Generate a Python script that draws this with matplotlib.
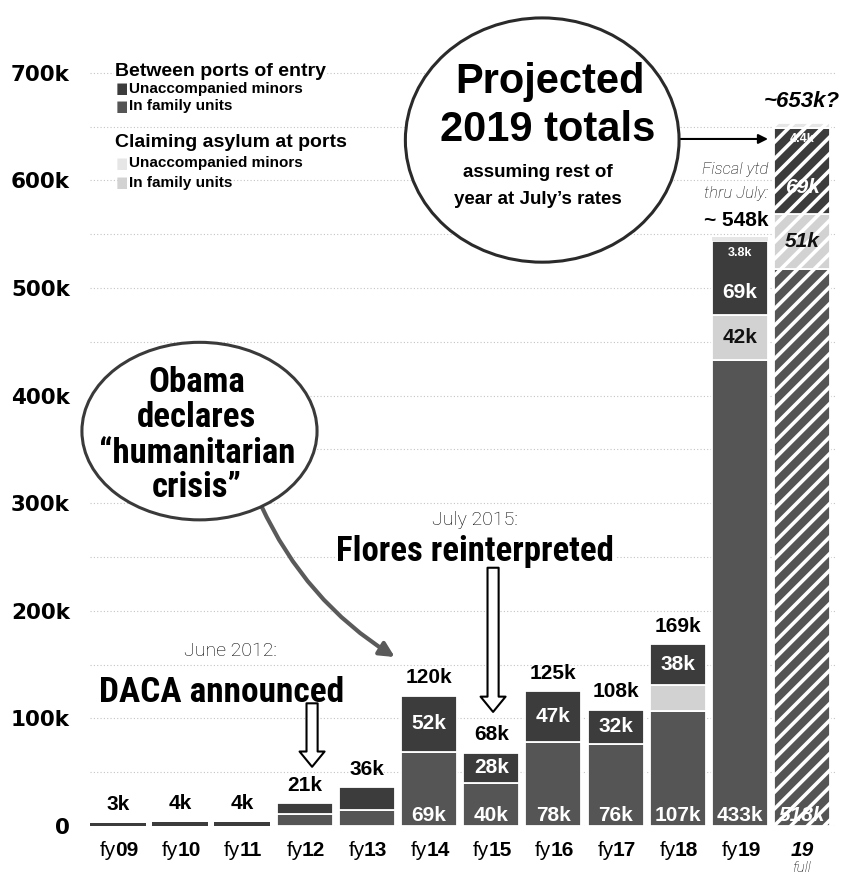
import numpy as np
import matplotlib
matplotlib.use("Agg")
import matplotlib.pyplot as plt
from matplotlib import font_manager
from matplotlib.patches import Ellipse, FancyArrowPatch

#
# Data (thousands of apprehensions / arrivals)
#
years        = ['09', '10', '11', '12', '13', '14', '15', '16', '17', '18', '19', '19']
bp_family    = np.array([0, 0, 0, 11, 15, 69, 40, 78, 76, 107, 433, 518])
poe_family   = np.array([0, 0, 0, 0, 0, 0, 0, 0, 0, 24, 42, 51])
bp_uac       = np.array([3, 4, 4, 10, 21, 52, 28, 47, 32, 38, 69, 80])
poe_uac      = np.array([0, 0, 0, 0, 0, 0, 0, 0, 0, 0, 3.8, 4.4])

total_labels      = ['3k', '4k', '4k', '21k', '36k', '120k', '68k', '125k', '108k', '169k', '', '']
family_labels     = ['', '', '', '', '', '69k', '40k', '78k', '76k', '107k', '433k', '518k']
uac_labels        = ['', '', '', '', '', '52k', '28k', '47k', '32k', '38k', '69k', '69k']
poe_family_labels = ['', '', '', '', '', '', '', '', '', '', '42k', '51k']
poe_uac_labels    = ['', '', '', '', '', '', '', '', '', '', '3.8k', '4.4k']

ytick_vals   = [0, 100, 200, 300, 400, 500, 600, 700]
ytick_labels = ['0', '100k', '200k', '300k', '400k', '500k', '600k', '700k']

#
# Fonts
#
names = {f.name for f in font_manager.fontManager.ttflist}
SANS = 'Liberation Sans' if 'Liberation Sans' in names else 'DejaVu Sans'
NARROW, NSTRETCH = 'DejaVu Sans', 'condensed'
for cand in ['Liberation Sans Narrow', 'Roboto Condensed', 'Open Sans Condensed']:
    if cand in names:
        NARROW, NSTRETCH = cand, 'normal'
        break
HEAD = 20.5 if NARROW == 'DejaVu Sans' else 25
LIGHT = 'Roboto' if 'Roboto' in names else SANS

C_FAM, C_UAC = '#555555', '#3c3c3c'
C_PFAM, C_PUAC = '#d2d2d2', '#e6e6e6'

plt.rcParams['hatch.linewidth'] = 2.6
plt.rcParams['hatch.color'] = 'white'

fig = plt.figure(figsize=(8.43, 8.76), dpi=100)
ax = fig.add_axes([0.0994, 0.0571, 0.8928, 0.9335])
ax.set_xlim(-0.55, 11.55)
ax.set_ylim(0, 760)
for s in ax.spines.values():
    s.set_visible(False)

x = np.arange(len(years))
full = len(years) - 1
w = 0.9

# dotted grid every 50k
ax.hlines(np.arange(0, 701, 50), -0.45, 11.55, colors='#c4c4c4', linestyles=(0, (1, 2)),
          linewidth=0.8, zorder=0)

#
# Stacked bars
#
layers = [(bp_family, C_FAM), (poe_family, C_PFAM), (bp_uac, C_UAC), (poe_uac, C_PUAC)]
bottom = np.zeros(len(years))
for vals, col in layers:
    m = (vals > 0) & (x != full)
    lw = np.where(vals[m] < 8, 0, 1.3)
    ax.bar(x[m], vals[m], w, bottom=bottom[m], color=col, edgecolor='white', linewidth=lw, zorder=2)
    if vals[full] > 0:
        ax.bar(x[full], vals[full], w, bottom=bottom[full], color=col, edgecolor='white',
               linewidth=1.3, hatch='//', zorder=2)
    bottom = bottom + vals
totals = bottom

lab_kw = dict(ha='center', va='center', fontsize=15, fontweight='bold', family=SANS, zorder=6)
for i in x:
    it = 'italic' if i == full else 'normal'
    if total_labels[i]:
        ax.annotate(total_labels[i], (i, totals[i]), xytext=(0, 13), textcoords='offset points',
                    color='black', **lab_kw)
    if family_labels[i]:
        ax.text(i, 10, family_labels[i], color='white', style=it, **lab_kw)
    b = bp_family[i] + poe_family[i]
    if uac_labels[i]:
        frac = 0.3 if poe_uac[i] > 0 else 0.5
        ax.text(i, b + bp_uac[i] * frac, uac_labels[i], color='white', style=it, **lab_kw)
    if poe_family_labels[i]:
        ax.text(i, bp_family[i] + poe_family[i] / 2, poe_family_labels[i], color='#111111',
                style=it, **lab_kw)
    if poe_uac_labels[i]:
        ax.text(i, totals[i] - 15, poe_uac_labels[i], color='white', ha='center', va='center',
                fontsize=9, fontweight='bold', family=SANS, zorder=6)

#
# Axis labels
#
ax.set_yticks(ytick_vals)
ax.set_yticklabels(ytick_labels, fontsize=15.5, fontweight='heavy', family='DejaVu Sans')
ax.tick_params(axis='y', length=0, pad=10)
ax.set_xticks([])

for i in x:
    if i == full:
        ax.text(i, -23, years[i], ha='center', va='center', fontsize=15, fontweight='bold',
                style='italic', family=SANS, clip_on=False)
        ax.text(i, -39, 'full', ha='center', va='center', fontsize=11, style='italic',
                family=LIGHT, fontweight='light', clip_on=False)
    else:
        ax.annotate('fy', (i, -23), xytext=(-1.5, 0), textcoords='offset points', ha='right',
                    va='center', fontsize=15, family=SANS, annotation_clip=False)
        ax.annotate(years[i], (i, -23), xytext=(-2, 0), textcoords='offset points', ha='left',
                    va='center', fontsize=15, fontweight='bold', family=SANS, annotation_clip=False)

#
# Legend
#
wb = dict(fc='white', ec='none', pad=1)
ax.text(-0.05, 701, 'Between ports of entry', fontsize=14, fontweight='bold', family=SANS,
        va='center', bbox=wb, zorder=4)
ax.text(-0.05, 635, 'Claiming asylum at ports', fontsize=14, fontweight='bold', family=SANS,
        va='center', bbox=wb, zorder=4)
legend_items = [(685, C_UAC, 'Unaccompanied minors'), (669, C_FAM, 'In family units'),
                (616, C_PUAC, 'Unaccompanied minors'), (598, C_PFAM, 'In family units')]
for yy, col, txt in legend_items:
    ax.text(-0.04, yy, '\u25a0', color=col, fontsize=11, va='center', family='DejaVu Sans', zorder=4)
    ax.text(0.17, yy, txt, fontsize=11, fontweight='bold', family=SANS, va='center', bbox=wb, zorder=4)

#
# Annotations
#
ax.add_patch(Ellipse((1.31, 367), 3.78, 165, fc='white', ec='#3a3a3a', lw=2.2, zorder=7, clip_on=False))
for yy, txt in zip([412, 380, 346, 315], ['Obama', 'declares', '\u201chumanitarian', 'crisis\u201d']):
    ax.text(1.27, yy, txt, ha='center', va='center', fontsize=HEAD, fontweight='bold', family=NARROW,
            fontstretch=NSTRETCH, zorder=8)
ax.annotate('', xy=(4.45, 157), xytext=(2.3, 298),
            arrowprops=dict(arrowstyle='-|>', color='#5a5a5a', lw=3, mutation_scale=22,
                            connectionstyle='arc3,rad=0.15', shrinkA=0, shrinkB=0), zorder=5)

ax.add_patch(Ellipse((6.82, 637.5), 4.4, 227, fc='white', ec='#2a2a2a', lw=2.2, zorder=7, clip_on=False))
ax.text(6.95, 691, 'Projected', ha='center', va='center', fontsize=30, fontweight='bold', family=SANS, zorder=8)
ax.text(6.9, 647, '2019 totals', ha='center', va='center', fontsize=30, fontweight='bold', family=SANS, zorder=8)
ax.text(6.75, 607, 'assuming rest of', ha='center', va='center', fontsize=13.5, fontweight='bold', family=SANS, zorder=8)
ax.text(6.75, 582, 'year at July\u2019s rates', ha='center', va='center', fontsize=13.5, fontweight='bold', family=SANS, zorder=8)
ax.annotate('', xy=(10.45, 638.5), xytext=(9.04, 638.5),
            arrowprops=dict(arrowstyle='-|>', color='black', lw=1.5, mutation_scale=14,
                            shrinkA=0, shrinkB=0), zorder=5)

ax.text(full, 673, '~653k?', ha='center', va='center', fontsize=16, fontweight='bold',
        style='italic', family=SANS, zorder=8)
ax.text(10 + w / 2, 610, 'Fiscal ytd', ha='right', va='center', fontsize=12, style='italic',
        family=LIGHT, fontweight='light', zorder=8)
ax.text(10 + w / 2, 588, 'thru July:', ha='right', va='center', fontsize=12, style='italic',
        family=LIGHT, fontweight='light', zorder=8)
ax.text(10 + w / 2, 563, '~ 548k', ha='right', va='center', fontsize=15, fontweight='bold',
        family=SANS, zorder=8)

# event call-outs
ax.text(1.8, 163, 'June 2012:', ha='center', va='center', fontsize=14, family=LIGHT, fontweight='light')
ax.text(1.67, 124, 'DACA announced', ha='center', va='center', fontsize=HEAD + 0.5, fontweight='bold',
        family=NARROW, fontstretch=NSTRETCH, bbox=wb, zorder=4)
ax.text(5.74, 284, 'July 2015:', ha='center', va='center', fontsize=14, family=LIGHT, fontweight='light')
ax.text(5.74, 255, 'Flores reinterpreted', ha='center', va='center', fontsize=HEAD, fontweight='bold',
        family=NARROW, fontstretch=NSTRETCH, bbox=wb, zorder=4)

hollow = 'simple,head_width=1.8,head_length=1.1,tail_width=0.8'
for xa, y0, y1 in [(3.12, 114, 55), (6.03, 240, 106)]:
    ax.add_patch(FancyArrowPatch((xa, y0), (xa, y1), arrowstyle=hollow, mutation_scale=10,
                                 fc='white', ec='black', lw=1.5, shrinkA=0, shrinkB=0, zorder=5))

fig.savefig('out.png', dpi=100)
